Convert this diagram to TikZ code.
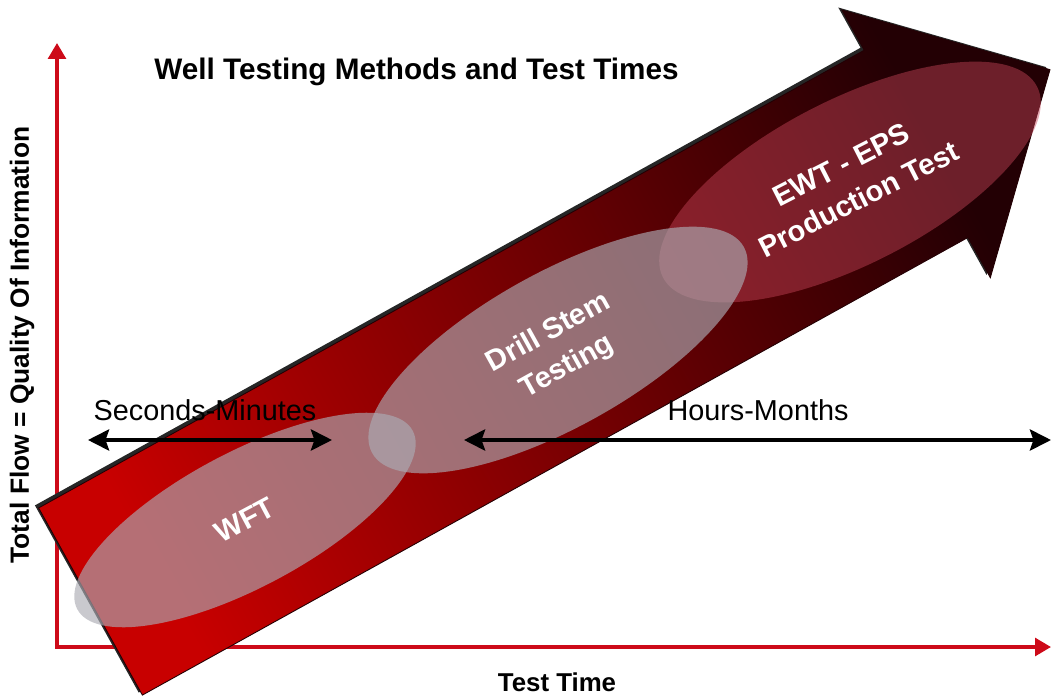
\documentclass[tikz,border=0pt]{standalone}
\usepackage{fontspec}
\setmainfont{Liberation Sans}
\usetikzlibrary{arrows.meta,shapes.geometric}

\definecolor{axisred}{RGB}{205,10,25}
\definecolor{arrowlight}{RGB}{200,0,0}
\definecolor{arrowmid}{RGB}{135,0,0}
\definecolor{arrowdark}{RGB}{35,0,4}
\definecolor{lensgray}{RGB}{172,172,180}
\definecolor{lensred}{RGB}{200,70,90}

\tikzset{
  axisline/.style={axisred, line width=2pt,
    {Triangle[length=9pt,width=10pt]}-{Triangle[length=9pt,width=10pt]}},
  span/.style={black, line width=2.2pt,
    {Stealth[length=12pt,width=12pt,inset=2pt]}-{Stealth[length=12pt,width=12pt,inset=2pt]}},
  spanlabel/.style={font=\fontsize{16.4}{19}\selectfont},
  lens/.style={ellipse, inner sep=0pt, fill=lensgray, fill opacity=0.65,
    text opacity=1, text=white, align=center,
    font=\fontsize{16.6}{22}\selectfont\bfseries},
}

\begin{document}
\begin{tikzpicture}[x=0.02cm, y=0.02cm]
  \useasboundingbox (0,0) rectangle (1051,698);

  % axes
  \coordinate (ytop) at (57,655);
  \coordinate (o) at (57,51);
  \coordinate (xend) at (1051,51);
  \draw[axisline] (ytop) -- (o) -- (xend);

  % big arrow, drawn along its own axis
  \begin{scope}[shift={(90.5,96.5)}, rotate=29]
    \fill[black!85, shift={(-2,4)}] (0,107) -- (944,107) -- (944,153) -- (1097,0)
      -- (944,-153) -- (944,-107) -- (0,-107) -- cycle;
    \shade[left color=arrowlight, middle color=arrowmid, right color=arrowdark,
      shading angle=119, draw=arrowdark, line width=0.5pt]
      (0,107) -- (944,107) -- (944,153) -- (1097,0)
      -- (944,-153) -- (944,-107) -- (0,-107) -- cycle;
  \end{scope}

  % test methods
  \node[lens, fill=lensred, fill opacity=0.45, minimum width=8.4cm,
    minimum height=3.3cm, rotate=27] (ewt) at (850,516) {EWT - EPS\\Production Test};
  \node[lens, minimum width=8.5cm, minimum height=3.1cm, rotate=29] (dst)
    at (558,348) {Drill Stem\\Testing};
  \node[lens, minimum width=7.6cm, minimum height=2.7cm, rotate=28] (wft)
    at (245,178) {WFT};

  % time ranges
  \coordinate (sm-l) at (88,258);
  \coordinate (sm-r) at (332,258);
  \coordinate (hm-l) at (464,258);
  \coordinate (hm-r) at (1051,258);
  \draw[span] (sm-l) -- (sm-r);
  \draw[span] (hm-l) -- (hm-r);
  \node[spanlabel] (sm) at (205,288) {Seconds-Minutes};
  \node[spanlabel] (hm) at (758,288) {Hours-Months};

  % titles
  \node[font=\fontsize{16.9}{19}\selectfont\bfseries] (title) at (416.5,626)
    {Well Testing Methods and Test Times};
  \node[rotate=90, font=\fontsize{15}{18}\selectfont\bfseries] (ylabel) at (22,353)
    {Total Flow = Quality Of Information};
  \node[font=\fontsize{14.7}{17}\selectfont\bfseries] (xlabel) at (557,16) {Test Time};
\end{tikzpicture}
\end{document}
